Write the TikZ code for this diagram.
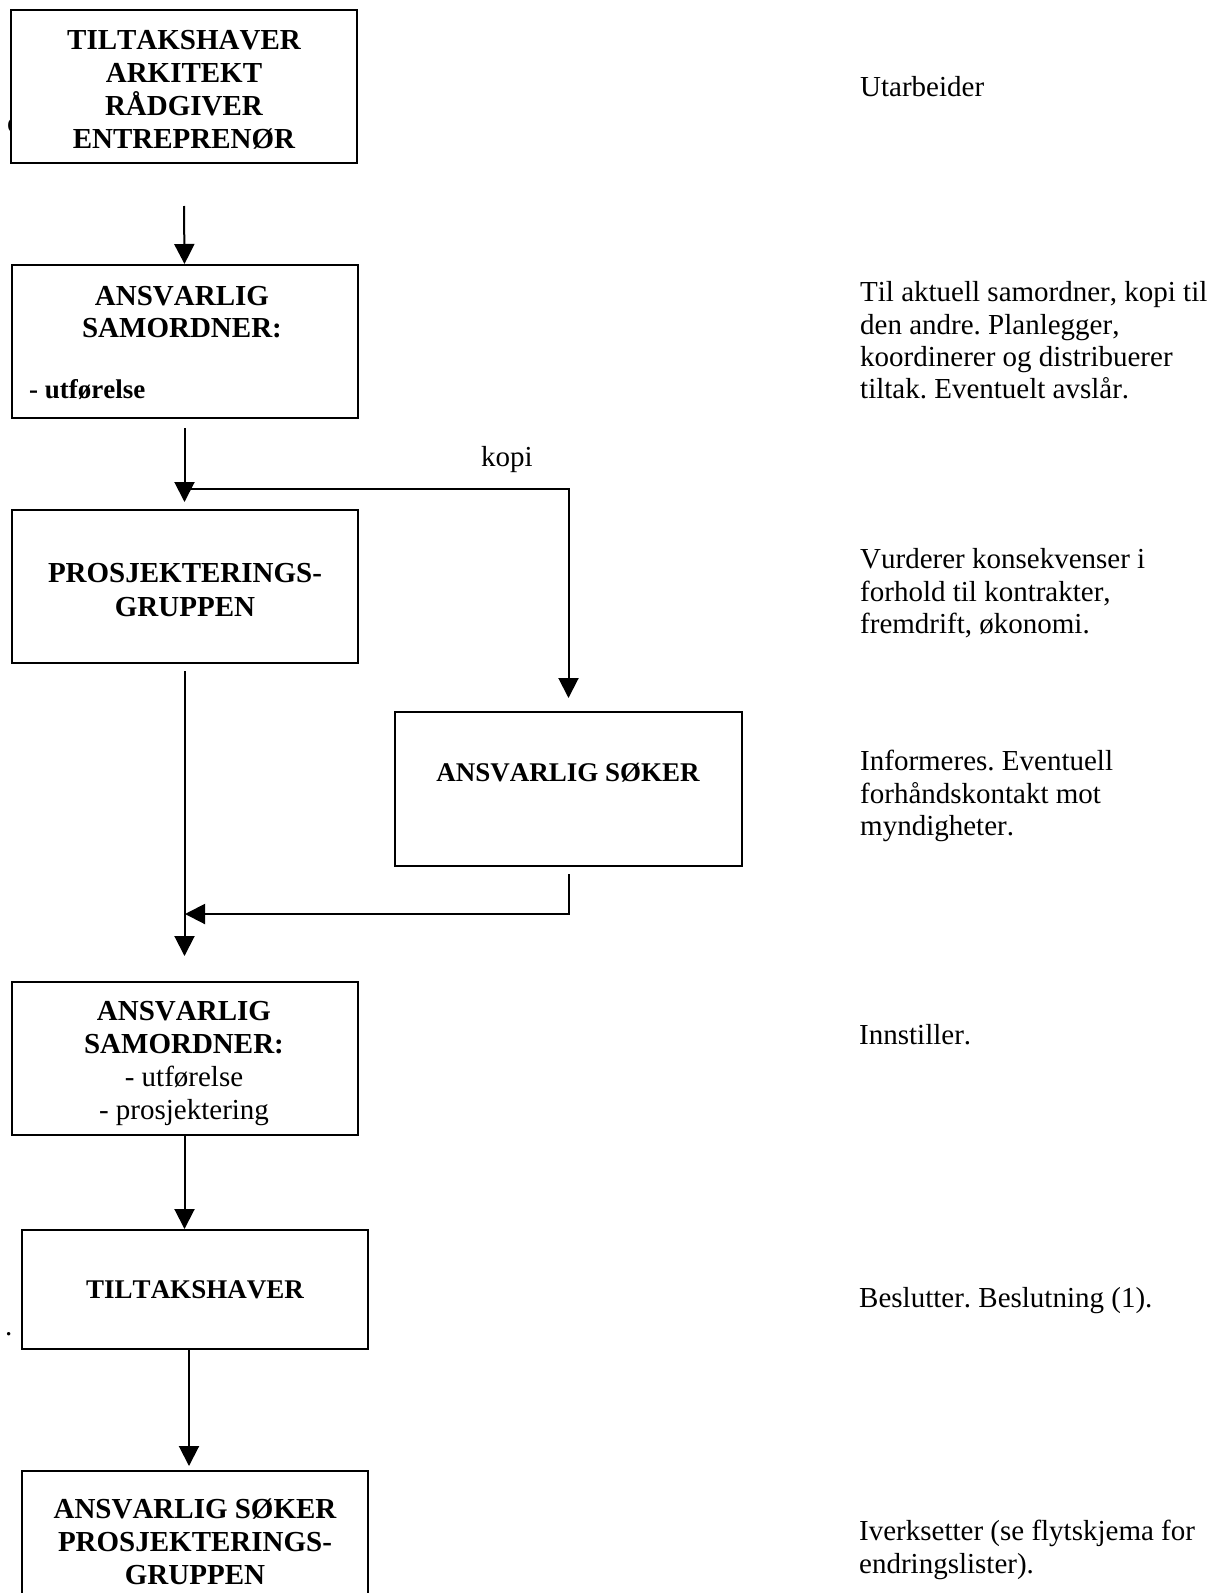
\documentclass[tikz,border=0pt]{standalone}
\usepackage{fontspec}
\setmainfont{Liberation Serif}[Kerning=Off]
\usetikzlibrary{arrows.meta}
\begin{document}
\frenchspacing
\begin{tikzpicture}[x=1pt,y=-1pt,
  box/.style={draw, line width=2pt, inner sep=0pt, fill=white, minimum width=346pt},
  arr/.style={line width=2pt, -{Triangle[length=20pt,width=20pt]}},
  ln/.style={line width=2pt},
  rt/.style={anchor=base west, inner sep=0pt, font=\fontsize{29}{33}\selectfont\frenchspacing},
  rc/.style={anchor=base, inner sep=0pt, font=\fontsize{29}{33}\selectfont},
  bt/.style={anchor=base, inner sep=0pt, font=\fontsize{29}{33}\selectfont\bfseries},
  bs/.style={anchor=base, inner sep=0pt, font=\fontsize{27}{30}\selectfont\bfseries}]
\useasboundingbox (0,0) rectangle (1221,1593);
\clip (0,0) rectangle (1221,1593);
\fill[white] (0,0) rectangle (1221,1593);

% stray glyphs
\node[rt] (stray1) at (7,132) {o};
\node[rt] (stray2) at (5,1335) {.};

% boxes
\node[box, minimum height=153pt] (b1) at (184,86.5) {};
\node[box, minimum height=153pt] (b2) at (184.5,341.5) {};
\node[box, minimum height=153pt] (b3) at (184.5,586.5) {};
\node[box, minimum width=347pt, minimum height=154pt] (b4) at (568.5,789) {};
\node[box, minimum height=153pt] (b5) at (184.5,1058.5) {};
\node[box, minimum height=119pt] (b6) at (195,1289.5) {};
\node[box, minimum height=220pt] (b7) at (195,1581) {};

% box texts
\node[bt] (t1a) at (184,49) {TILTAKSHAVER};
\node[bt] (t1b) at (184,82) {ARKITEKT};
\node[bt] (t1c) at (184,115) {RÅDGIVER};
\node[bt] (t1d) at (184,148) {ENTREPRENØR};

\node[bt] (t2a) at (182,305) {ANSVARLIG};
\node[bt] (t2b) at (182,337) {SAMORDNER:};
\node[bs, anchor=base west] (t2c) at (29,398) {- utførelse};

\node[bt] (t3a) at (185,582) {PROSJEKTERINGS-};
\node[bt] (t3b) at (185,616) {GRUPPEN};

\node[bs] (t4a) at (568,781) {ANSVARLIG SØKER};

\node[bt] (t5a) at (184,1020) {ANSVARLIG};
\node[bt] (t5b) at (184,1053) {SAMORDNER:};
\node[rc] (t5c) at (184,1086) {- utførelse};
\node[rc] (t5d) at (184,1119) {- prosjektering};

\node[bs] (t6a) at (195,1298) {TILTAKSHAVER};

\node[bt] (t7a) at (195,1518) {ANSVARLIG SØKER};
\node[bt] (t7b) at (195,1551) {PROSJEKTERINGS-};
\node[bt] (t7c) at (195,1584) {GRUPPEN};

% connectors
\draw[arr] ([yshift=-42pt]b1.south) -- (b2.north);
\draw[arr] ([yshift=-9pt]b2.south) -- ([yshift=7pt]b3.north);
\coordinate (kj) at (190,489);
\draw[arr] (kj) -| ([yshift=13pt]b4.north);
\node[rc] (kopi) at (507,466) {kopi};
\draw[arr] ([yshift=-7pt]b3.south) -- ([yshift=25pt]b5.north);
\coordinate (fj) at (185,914);
\draw[arr] ([yshift=-7pt]b4.south) |- (fj);
\draw[arr] (b5.south) -- (b5.south |- b6.north);
\draw[arr] ([xshift=-6pt]b6.south) -- ([xshift=-6pt,yshift=4pt]b7.north);

% right column
\node[rt] (r1) at (860,96) {Utarbeider};
\node[rt] (r2a) at (860,301) {Til aktuell samordner, kopi til};
\node[rt] (r2b) at (860,334) {den andre. Planlegger,};
\node[rt] (r2c) at (860,366) {koordinerer og distribuerer};
\node[rt] (r2d) at (860,398) {tiltak. Eventuelt avslår.};
\node[rt] (r3a) at (860,568) {Vurderer konsekvenser i};
\node[rt] (r3b) at (860,601) {forhold til kontrakter,};
\node[rt] (r3c) at (860,633) {fremdrift, økonomi.};
\node[rt] (r4a) at (860,770) {Informeres. Eventuell};
\node[rt] (r4b) at (860,803) {forhåndskontakt mot};
\node[rt] (r4c) at (860,835) {myndigheter.};
\node[rt] (r5) at (859,1044) {Innstiller.};
\node[rt] (r6) at (859,1307) {Beslutter. Beslutning (1).};
\node[rt] (r7a) at (859,1540) {Iverksetter (se flytskjema for};
\node[rt] (r7b) at (859,1573) {endringslister).};
\end{tikzpicture}
\end{document}
